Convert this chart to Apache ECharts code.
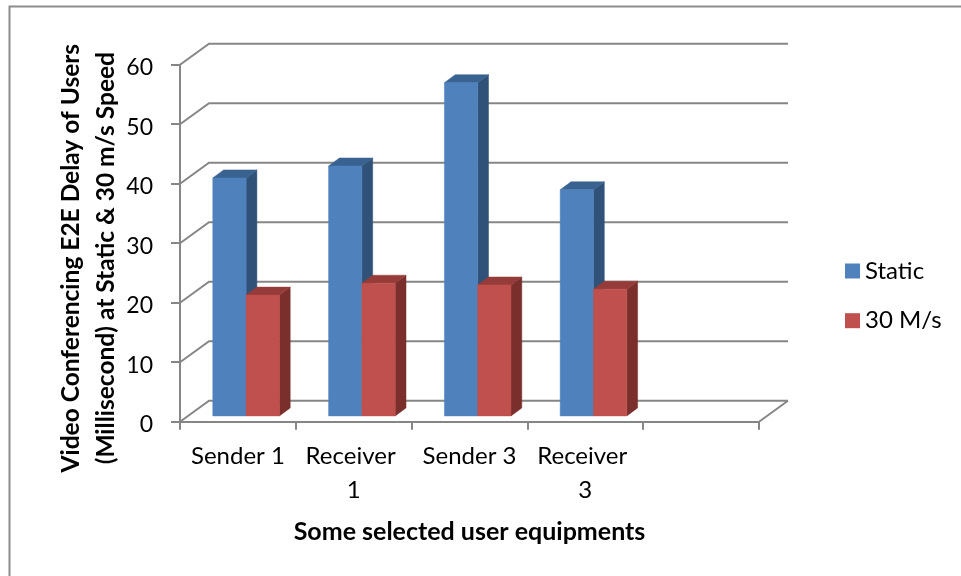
<!DOCTYPE html>
<html>
<head>
<meta charset="utf-8">
<style>html,body{margin:0;padding:0;background:#fff}#chart{width:961px;height:576px}</style>
<script src="https://cdn.jsdelivr.net/npm/echarts@6/dist/echarts.min.js"></script>
</head>
<body>
<div id="chart"></div>
<script>
// Delay per user equipment, in milliseconds
const categories = ['Sender 1', 'Receiver 1', 'Sender 3', 'Receiver 3', ''];
const staticDelay = [40, 42, 56, 38];
const movingDelay = [20.3, 22.3, 22, 21.3];
const yTicks = [0, 10, 20, 30, 40, 50, 60];

// Oblique projection of the chart box
const WALL_DX = 29, WALL_DY = -21;     // front floor edge to back wall
const BAR_DX = 8.2, BAR_DY = -5.8;     // front floor edge to bar face
const SIDE_DX = 10.8, SIDE_DY = -8;    // bar face to bar rear
const BAR_SHARE = 0.2876;              // bar width as a share of a category band

const FONT = 'Lato, "Open Sans", sans-serif';
const AXIS_COLOR = '#868686';

// Draws one bar as three faces; slot -1 sits left of the band centre, slot 0 right of it
function prism(slot, front, top, side) {
  return function (params, api) {
    const base = api.coord([api.value(0), 0]);
    const head = api.coord([api.value(0), api.value(1)]);
    const w = api.size([1, 0])[0] * BAR_SHARE;
    const x0 = base[0] + BAR_DX + slot * w;
    const x1 = x0 + w;
    const yb = base[1] + BAR_DY;
    const yt = head[1] + BAR_DY;
    const poly = (points, fill) => ({
      type: 'polygon',
      shape: { points },
      style: { fill, stroke: fill, lineWidth: 0.5 }
    });
    return {
      type: 'group',
      children: [
        poly([[x1, yb], [x1 + SIDE_DX, yb + SIDE_DY], [x1 + SIDE_DX, yt + SIDE_DY], [x1, yt]], side),
        poly([[x0, yt], [x0 + SIDE_DX, yt + SIDE_DY], [x1 + SIDE_DX, yt + SIDE_DY], [x1, yt]], top),
        poly([[x0, yb], [x1, yb], [x1, yt], [x0, yt]], front)
      ]
    };
  };
}

// Side wall and back wall gridline for one tick value
function wallLines(params, api) {
  const v = api.value(1);
  const y = api.coord([0, v])[1];
  const rect = params.coordSys;
  const leftX = rect.x;
  const rightX = rect.x + rect.width;
  const style = { stroke: AXIS_COLOR, lineWidth: 2, fill: null };
  const children = [{
    type: 'polyline',
    shape: { points: [[leftX, y], [leftX + WALL_DX, y + WALL_DY], [rightX + WALL_DX, y + WALL_DY]] },
    style
  }];
  if (v === 0) {
    children.push({
      type: 'line',
      shape: { x1: rightX, y1: y, x2: rightX + WALL_DX, y2: y + WALL_DY },
      style
    });
  }
  return { type: 'group', children };
}

const chart = echarts.init(document.getElementById('chart'));
chart.setOption({
  backgroundColor: '#ffffff',
  animation: false,
  graphic: [{
    type: 'polyline',
    silent: true,
    shape: { points: [[9.5, 576], [9.5, 6.5], [961, 6.5]] },
    style: { stroke: '#8c8c8c', lineWidth: 2, fill: null }
  }],
  grid: { left: 180, right: 202, top: 64.7, height: 357 },
  legend: {
    data: ['Static', '30 M/s'],
    orient: 'vertical',
    left: 845,
    top: 259,
    padding: 0,
    icon: 'rect',
    itemWidth: 15,
    itemHeight: 15,
    itemGap: 25.7,
    textStyle: { fontFamily: FONT, fontSize: 24, color: '#000' }
  },
  xAxis: {
    type: 'category',
    data: categories,
    boundaryGap: true,
    name: 'Some selected user equipments',
    nameLocation: 'middle',
    nameGap: 98,
    nameMoveOverlap: false,
    nameTextStyle: { fontFamily: FONT, fontSize: 25, fontWeight: 'bold', color: '#000' },
    axisLine: { lineStyle: { color: AXIS_COLOR, width: 2 } },
    axisTick: { show: true, length: 8, lineStyle: { color: AXIS_COLOR, width: 2 } },
    axisLabel: {
      interval: 0,
      fontFamily: FONT,
      fontSize: 24,
      color: '#000',
      margin: 18,
      lineHeight: 34,
      width: 102,
      overflow: 'break'
    },
    splitLine: { show: false }
  },
  yAxis: {
    type: 'value',
    min: 0,
    max: 60,
    interval: 10,
    name: 'Video Conferencing E2E Delay of Users\n(Millisecond) at Static & 30 m/s Speed',
    nameLocation: 'middle',
    nameGap: 56,
    nameMoveOverlap: false,
    nameRotate: 90,
    nameTextStyle: {
      fontFamily: FONT, fontSize: 24.5, fontWeight: 'bold', color: '#000',
      lineHeight: 35, padding: [0, 30, 0, 0]
    },
    axisLine: { show: true, lineStyle: { color: AXIS_COLOR, width: 2 } },
    axisTick: { show: true, length: 9, lineStyle: { color: AXIS_COLOR, width: 2 } },
    axisLabel: {
      fontFamily: FONT, fontSize: 23, color: '#000', margin: 27,
      verticalAlign: 'top', lineHeight: 6
    },
    splitLine: { show: false }
  },
  series: [
    {
      name: 'walls',
      type: 'custom',
      silent: true,
      z: 1,
      data: yTicks.map(v => [0, v]),
      encode: { x: 0, y: 1 },
      renderItem: wallLines
    },
    {
      name: 'Static',
      type: 'custom',
      z: 2,
      itemStyle: { color: '#4F81BD' },
      data: staticDelay.map((v, i) => [i, v]),
      encode: { x: 0, y: 1 },
      renderItem: prism(-1, '#4F81BD', '#3A6291', '#305279')
    },
    {
      name: '30 M/s',
      type: 'custom',
      z: 3,
      itemStyle: { color: '#C0504D' },
      data: movingDelay.map((v, i) => [i, v]),
      encode: { x: 0, y: 1 },
      renderItem: prism(0, '#C0504D', '#953C3A', '#7A2F2D')
    }
  ]
});
</script>
</body>
</html>
